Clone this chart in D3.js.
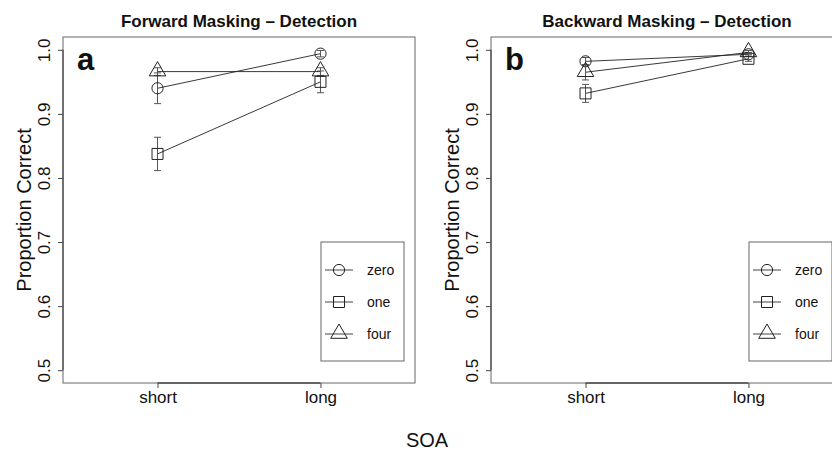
<!DOCTYPE html>
<html>
<head>
<meta charset="utf-8">
<script src="https://cdn.jsdelivr.net/npm/d3@7"></script>
<style>
  body { margin: 0; background: #fff; }
  text { font-family: "Liberation Sans", Arial, sans-serif; fill: #111; }
</style>
</head>
<body>
<div class="figure"></div>
<script>
// categories
const soa = ['short', 'long'];
const maskers = ['zero', 'one', 'four'];
const yTicks = [0.5, 0.6, 0.7, 0.8, 0.9, 1.0];

// forward masking: mean proportion correct per masker (short, long)
const fwdZero = [0.940, 0.994];
const fwdOne = [0.8375, 0.950];
const fwdFour = [0.966, 0.966];
// error bar half widths
const fwdZeroErr = [0.024, 0.005];
const fwdOneErr = [0.026, 0.017];
const fwdFourErr = [0.006, 0.006];

// backward masking
const bwdZero = [0.982, 0.993];
const bwdOne = [0.932, 0.986];
const bwdFour = [0.965, 0.996];
const bwdZeroErr = [0.006, 0.003];
const bwdOneErr = [0.014, 0.004];
const bwdFourErr = [0.012, 0.003];

const width = 832;
const height = 450;

const svg = d3.select('.figure')
    .append('svg')
    .attr('width', width)
    .attr('height', height);

const plotTop = 37, plotW = 352, plotH = 346;

//draws one panel with box, axes, series and legend
function drawPanel(left, title, letter, means, errs) {
    const x = d3.scaleLinear().domain([0.42, 2.58]).range([left, left + plotW]);
    const y = d3.scaleLinear().domain([0.48, 1.02]).range([plotTop + plotH, plotTop]);

    // x axis
    const xAxis = svg.append('g')
        .attr('transform', `translate(0,${plotTop + plotH})`)
        .call(d3.axisBottom(x).tickValues([1, 2]).tickFormat(d => soa[d - 1]).tickSize(5));
    xAxis.select('.domain').remove();
    xAxis.selectAll('line').attr('stroke', '#444');
    xAxis.selectAll('text').attr('y', 20).attr('dy', 0).attr('font-size', 17).attr('fill', '#111');
    xAxis.append('line')
        .attr('x1', x(1)).attr('x2', x(2))
        .attr('stroke', '#333').attr('stroke-width', 1.3);

    // y axis
    const yAxis = svg.append('g')
        .attr('transform', `translate(${left},0)`)
        .call(d3.axisLeft(y).tickValues(yTicks).tickFormat(d3.format('.1f')).tickSize(5));
    yAxis.select('.domain').remove();
    yAxis.selectAll('line').attr('stroke', '#444');
    yAxis.selectAll('text')
        .attr('x', 0).attr('dy', 0)
        .attr('text-anchor', 'middle')
        .attr('font-size', 17)
        .attr('fill', '#111')
        .attr('transform', 'translate(-13,0) rotate(-90)');
    yAxis.append('line')
        .attr('y1', y(0.5)).attr('y2', y(1.0))
        .attr('stroke', '#333').attr('stroke-width', 1.3);

    // box
    svg.append('rect')
        .attr('x', left).attr('y', plotTop)
        .attr('width', plotW).attr('height', plotH)
        .attr('fill', 'none').attr('stroke', '#666').attr('stroke-width', 1);

    // title
    svg.append('text')
        .text(title)
        .attr('x', left + plotW / 2)
        .attr('y', 27)
        .attr('text-anchor', 'middle')
        .attr('font-weight', 'bold')
        .attr('font-size', 17);

    // panel letter
    svg.append('text')
        .text(letter)
        .attr('x', left + 14)
        .attr('y', 70)
        .attr('font-weight', 'bold')
        .attr('font-size', 31);

    // y label
    svg.append('text')
        .text('Proportion Correct')
        .attr('transform', `translate(${left - 32},${plotTop + plotH / 2}) rotate(-90)`)
        .attr('text-anchor', 'middle')
        .attr('font-size', 20);

    const line = d3.line().x((d, i) => x(i + 1)).y(d => y(d));

    means.forEach((m, k) => {
        svg.append('path')
            .attr('d', line(m))
            .attr('fill', 'none')
            .attr('stroke', '#222')
            .attr('stroke-width', 0.9);

        // error bars
        m.forEach((v, i) => {
            const e = errs[k][i];
            const cx = x(i + 1);
            const g = svg.append('g').attr('stroke', '#555').attr('stroke-width', 1);
            g.append('line').attr('x1', cx).attr('x2', cx).attr('y1', y(v - e)).attr('y2', y(v + e));
            g.append('line').attr('x1', cx - 3.5).attr('x2', cx + 3.5).attr('y1', y(v - e)).attr('y2', y(v - e));
            g.append('line').attr('x1', cx - 3.5).attr('x2', cx + 3.5).attr('y1', y(v + e)).attr('y2', y(v + e));
        });

        svg.selectAll(null)
            .data(m)
            .enter()
            .append('path')
            .attr('d', marker(k))
            .attr('transform', (d, i) => `translate(${x(i + 1)},${y(d)})`)
            .attr('fill', 'none')
            .attr('stroke', '#222')
            .attr('stroke-width', 1);
    });

    // legend
    const lx = left + 258, ly = 242;
    svg.append('rect')
        .attr('x', lx).attr('y', ly)
        .attr('width', 83).attr('height', 119)
        .attr('fill', '#fff').attr('stroke', '#666');
    maskers.forEach((name, k) => {
        const ey = ly + 28 + k * 32;
        svg.append('line')
            .attr('x1', lx + 4).attr('x2', lx + 32)
            .attr('y1', ey).attr('y2', ey)
            .attr('stroke', '#444').attr('stroke-width', 1);
        svg.append('path')
            .attr('d', marker(k))
            .attr('transform', `translate(${lx + 18},${ey})`)
            .attr('fill', 'none')
            .attr('stroke', '#222');
        svg.append('text')
            .text(name)
            .attr('x', lx + 46)
            .attr('y', ey + 5)
            .attr('font-size', 14);
    });
}

//marker shapes: circle, square, triangle
function marker(k) {
    if (k == 0) {
        return 'M5.6,0A5.6,5.6 0 1,1 -5.6,0A5.6,5.6 0 1,1 5.6,0Z';
    } else if (k == 1) {
        return 'M-5.5,-5.5H5.5V5.5H-5.5Z';
    } else {
        return 'M0,-10L8.3,4.3H-8.3Z';
    }
}

drawPanel(63, 'Forward Masking \u2013 Detection', 'a',
    [fwdZero, fwdOne, fwdFour], [fwdZeroErr, fwdOneErr, fwdFourErr]);
drawPanel(491, 'Backward Masking \u2013 Detection', 'b',
    [bwdZero, bwdOne, bwdFour], [bwdZeroErr, bwdOneErr, bwdFourErr]);

svg.append('text')
    .text('SOA')
    .attr('x', 427)
    .attr('y', 447)
    .attr('text-anchor', 'middle')
    .attr('font-size', 20);
</script>
</body>
</html>
